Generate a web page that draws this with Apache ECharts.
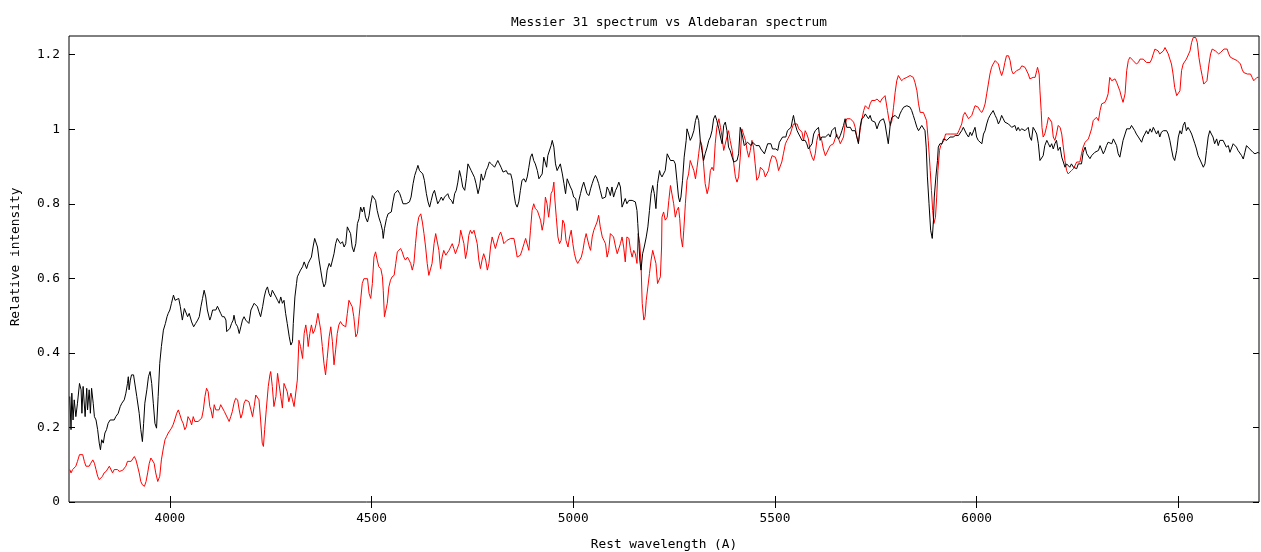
<!DOCTYPE html>
<html>
<head>
<meta charset="utf-8">
<script src="https://cdn.jsdelivr.net/npm/echarts@6/dist/echarts.min.js"></script>
<style>
html,body{margin:0;padding:0;background:#fff;}
#chart{width:1261px;height:552px;}
</style>
</head>
<body>
<div id="chart"></div>
<script>
const titleText = 'Messier 31 spectrum vs Aldebaran spectrum';
const xAxisName = 'Rest wavelength (A)';
const yAxisName = 'Relative intensity';
const xTicks = [4000, 4500, 5000, 5500, 6000, 6500];
const yTicks = [0, 0.2, 0.4, 0.6, 0.8, 1, 1.2];

// Messier 31 spectrum (red) : [wavelength, relative intensity]
const m31 = [
[3752,0.087],[3755,0.078],[3759,0.087],[3763,0.082],[3767,0.096],[3771,0.109],[3776,0.127],[3780,0.131],[3784,0.127],[3788,0.109],[3792,0.096],[3796,0.100],[3800,0.096],[3804,0.104],[3809,0.113],[3813,0.104],[3817,0.087],[3821,0.069],[3825,0.060],[3829,0.064],[3833,0.069],[3837,0.078],[3842,0.082],[3846,0.087],[3850,0.096],[3854,0.091],[3858,0.078],[3862,0.087],[3866,0.082],[3870,0.087],[3875,0.082],[3879,0.087],[3883,0.085],[3887,0.087],[3891,0.096],[3895,0.109],[3899,0.104],[3904,0.109],[3908,0.113],[3912,0.122],[3916,0.113],[3920,0.096],[3924,0.078],[3928,0.055],[3932,0.046],[3937,0.042],[3941,0.055],[3945,0.078],[3949,0.104],[3953,0.118],[3957,0.122],[3961,0.104],[3965,0.078],[3970,0.055],[3972,0.051],[3975,0.069],[3979,0.113],[3984,0.145],[3988,0.167],[3992,0.176],[3996,0.185],[4000,0.189],[4004,0.198],[4008,0.207],[4012,0.220],[4017,0.238],[4021,0.247],[4025,0.234],[4029,0.220],[4033,0.211],[4037,0.194],[4041,0.202],[4045,0.229],[4050,0.220],[4054,0.207],[4058,0.229],[4062,0.216],[4066,0.211],[4070,0.216],[4074,0.216],[4079,0.225],[4083,0.247],[4087,0.283],[4091,0.305],[4095,0.296],[4099,0.256],
[4102,0.247],[4106,0.225],[4110,0.261],[4114,0.247],[4118,0.252],[4122,0.247],[4126,0.261],[4130,0.265],[4135,0.243],[4139,0.247],[4143,0.225],[4147,0.216],[4151,0.229],[4155,0.243],[4159,0.265],[4163,0.278],[4168,0.274],[4172,0.247],[4176,0.225],[4180,0.238],[4184,0.265],[4188,0.274],[4192,0.278],[4196,0.269],[4201,0.247],[4205,0.229],[4209,0.256],[4213,0.287],[4217,0.283],[4221,0.274],[4225,0.220],[4229,0.158],[4232,0.149],[4235,0.194],[4239,0.247],[4244,0.310],[4248,0.341],[4250,0.350],[4254,0.310],[4258,0.256],[4263,0.283],[4267,0.345],[4271,0.350],[4275,0.283],[4279,0.252],[4283,0.318],[4287,0.323],[4291,0.296],[4295,0.269],[4300,0.292],[4304,0.274],[4308,0.256],[4312,0.252],[4316,0.327],[4320,0.434],[4324,0.417],[4329,0.385],[4333,0.452],[4337,0.475],[4341,0.443],[4343,0.417],[4347,0.452],[4351,0.475],[4355,0.452],[4359,0.461],[4363,0.479],[4367,0.506],[4370,0.501],[4374,0.461],[4378,0.417],[4382,0.372],[4386,0.341],[4390,0.385],[4395,0.443],[4399,0.470],[4403,0.430],[4407,0.368],[4411,0.408],[4415,0.452],[4419,0.475],[4423,0.484],[4428,0.475],[4432,0.470],[4436,0.470],[4440,0.506],[4444,0.541],[4448,0.546],[4452,0.524],[4456,0.497],[4461,0.443],[4465,0.452],[4469,0.497],
[4473,0.501],[4477,0.586],[4481,0.599],[4485,0.595],[4490,0.599],[4494,0.559],[4498,0.546],[4502,0.586],[4506,0.657],[4510,0.671],[4514,0.649],[4518,0.631],[4523,0.626],[4527,0.604],[4529,0.568],[4532,0.497],[4536,0.492],[4539,0.533],[4543,0.577],[4547,0.595],[4551,0.604],[4556,0.608],[4560,0.640],[4564,0.671],[4568,0.675],[4572,0.680],[4576,0.671],[4580,0.657],[4584,0.649],[4589,0.657],[4593,0.649],[4597,0.640],[4601,0.622],[4605,0.640],[4609,0.693],[4613,0.738],[4617,0.764],[4622,0.773],[4626,0.751],[4630,0.720],[4634,0.684],[4638,0.640],[4642,0.608],[4646,0.604],[4650,0.640],[4655,0.693],[4659,0.720],[4663,0.724],[4667,0.675],[4671,0.626],[4675,0.657],[4679,0.675],[4684,0.662],[4688,0.666],[4692,0.675],[4696,0.671],[4700,0.693],[4704,0.680],[4708,0.666],[4712,0.662],[4717,0.693],[4721,0.729],[4725,0.729],[4729,0.693],[4733,0.653],[4737,0.675],[4741,0.715],[4745,0.729],[4749,0.720],[4754,0.729],[4758,0.724],[4762,0.693],[4766,0.649],[4770,0.626],[4774,0.649],[4778,0.666],[4783,0.649],[4787,0.622],[4791,0.640],[4795,0.684],[4799,0.711],[4803,0.707],[4807,0.680],[4811,0.684],[4816,0.715],[4820,0.724],[4824,0.711],[4828,0.693],[4832,0.693],[4836,0.702],[4840,0.698],[4845,0.707],
[4849,0.702],[4853,0.707],[4857,0.684],[4861,0.657],[4865,0.653],[4869,0.662],[4873,0.675],[4878,0.693],[4882,0.707],[4886,0.711],[4890,0.675],[4894,0.729],[4898,0.782],[4902,0.800],[4906,0.787],[4911,0.782],[4915,0.782],[4919,0.756],[4923,0.729],[4927,0.751],[4931,0.818],[4935,0.800],[4939,0.764],[4942,0.791],[4945,0.827],[4949,0.836],[4952,0.858],[4954,0.818],[4958,0.764],[4962,0.711],[4966,0.693],[4970,0.702],[4974,0.756],[4978,0.747],[4982,0.702],[4987,0.684],[4991,0.711],[4995,0.729],[4999,0.693],[5003,0.666],[5007,0.649],[5011,0.640],[5015,0.640],[5020,0.657],[5024,0.675],[5028,0.702],[5032,0.720],[5036,0.724],[5040,0.684],[5043,0.675],[5047,0.711],[5051,0.729],[5055,0.733],[5059,0.751],[5063,0.769],[5067,0.738],[5072,0.711],[5076,0.702],[5080,0.693],[5084,0.657],[5088,0.675],[5092,0.720],[5096,0.724],[5100,0.711],[5105,0.684],[5109,0.666],[5113,0.671],[5117,0.693],[5121,0.711],[5125,0.684],[5129,0.644],[5133,0.711],[5138,0.707],[5142,0.675],[5146,0.657],[5150,0.675],[5154,0.666],[5158,0.640],[5161,0.720],[5165,0.693],[5168,0.640],[5171,0.533],[5175,0.488],[5178,0.497],[5181,0.541],[5185,0.577],[5189,0.613],[5193,0.649],[5197,0.675],[5201,0.680],[5205,0.640],[5209,0.586],
[5216,0.604],[5219,0.684],[5220,0.764],[5224,0.778],[5228,0.756],[5233,0.764],[5237,0.809],[5241,0.849],[5245,0.845],[5249,0.800],[5253,0.764],[5257,0.782],[5261,0.791],[5264,0.760],[5267,0.711],[5271,0.684],[5274,0.729],[5278,0.800],[5282,0.863],[5286,0.880],[5290,0.916],[5294,0.921],[5299,0.889],[5303,0.867],[5307,0.898],[5311,0.934],[5315,0.970],[5319,0.956],[5323,0.907],[5327,0.854],[5332,0.827],[5336,0.845],[5340,0.889],[5344,0.898],[5348,0.889],[5352,0.961],[5356,1.005],[5361,1.028],[5365,1.005],[5369,0.979],[5373,0.943],[5377,0.938],[5381,0.979],[5385,0.996],[5389,0.970],[5394,0.943],[5398,0.907],[5402,0.872],[5406,0.858],[5410,0.872],[5414,0.925],[5418,1.001],[5422,1.005],[5427,0.970],[5431,0.943],[5435,0.925],[5439,0.943],[5443,0.970],[5447,0.952],[5451,0.907],[5455,0.863],[5460,0.872],[5464,0.898],[5468,0.898],[5472,0.889],[5476,0.872],[5480,0.867],[5484,0.889],[5488,0.912],[5493,0.929],[5497,0.929],[5501,0.925],[5505,0.912],[5509,0.889],[5513,0.885],[5517,0.912],[5521,0.934],[5526,0.961],[5530,0.970],[5534,0.974],[5538,0.987],[5542,1.001],[5546,1.014],[5550,1.019],[5555,1.014],[5559,1.001],[5563,0.996],[5567,0.992],[5571,0.970],[5575,0.996],[5579,0.987],[5583,0.974],
[5587,0.943],[5592,0.925],[5596,0.916],[5600,0.934],[5604,0.970],[5608,0.987],[5612,0.979],[5616,0.970],[5620,0.947],[5625,0.929],[5629,0.934],[5633,0.947],[5637,0.956],[5641,0.952],[5645,0.961],[5649,0.974],[5653,0.987],[5658,0.974],[5662,0.961],[5666,0.956],[5670,0.979],[5674,1.014],[5678,1.028],[5682,1.030],[5687,1.028],[5691,1.023],[5695,1.019],[5699,1.005],[5703,0.979],[5707,0.965],[5711,0.996],[5715,1.023],[5720,1.050],[5724,1.063],[5728,1.063],[5732,1.054],[5736,1.068],[5740,1.077],[5744,1.072],[5748,1.077],[5753,1.081],[5757,1.077],[5761,1.072],[5765,1.081],[5769,1.086],[5773,1.090],[5776,1.095],[5779,1.050],[5783,1.023],[5786,1.010],[5790,1.023],[5794,1.059],[5798,1.099],[5802,1.130],[5806,1.144],[5810,1.139],[5814,1.130],[5819,1.135],[5823,1.130],[5827,1.139],[5831,1.144],[5835,1.144],[5839,1.144],[5843,1.139],[5847,1.126],[5852,1.103],[5856,1.068],[5860,1.045],[5864,1.041],[5868,1.045],[5872,1.041],[5876,1.023],[5880,0.970],[5885,0.889],[5888,0.836],[5891,0.782],[5894,0.747],[5898,0.764],[5901,0.818],[5904,0.889],[5908,0.943],[5911,0.956],[5915,0.956],[5919,0.970],[5923,0.987],[5928,0.987],[5932,0.992],[5936,0.987],[5940,0.987],[5944,0.987],[5948,0.983],[5952,0.987],[5956,0.996],
[5959,1.001],[5963,1.014],[5967,1.037],[5971,1.045],[5975,1.041],[5980,1.028],[5984,1.023],[5988,1.037],[5992,1.050],[5996,1.063],[6000,1.068],[6004,1.059],[6008,1.050],[6013,1.045],[6017,1.054],[6021,1.068],[6025,1.095],[6029,1.121],[6033,1.148],[6037,1.166],[6041,1.175],[6046,1.184],[6050,1.182],[6054,1.175],[6058,1.157],[6062,1.144],[6066,1.157],[6070,1.179],[6074,1.197],[6079,1.197],[6083,1.184],[6087,1.157],[6091,1.148],[6095,1.152],[6099,1.157],[6103,1.157],[6107,1.161],[6112,1.170],[6116,1.175],[6120,1.166],[6124,1.161],[6128,1.148],[6132,1.135],[6136,1.130],[6140,1.139],[6145,1.139],[6149,1.157],[6151,1.166],[6155,1.148],[6157,1.103],[6160,1.050],[6162,1.005],[6165,0.979],[6169,0.987],[6174,1.010],[6178,1.032],[6182,1.037],[6186,1.019],[6190,0.979],[6194,0.970],[6198,0.987],[6202,1.010],[6207,1.005],[6211,0.987],[6215,0.952],[6219,0.916],[6223,0.889],[6227,0.880],[6231,0.885],[6235,0.889],[6240,0.894],[6244,0.898],[6248,0.912],[6252,0.907],[6256,0.912],[6260,0.934],[6264,0.952],[6269,0.965],[6273,0.970],[6277,0.974],[6281,0.987],[6285,1.001],[6289,1.023],[6293,1.028],[6297,1.032],[6302,1.023],[6306,1.050],[6310,1.068],[6314,1.068],[6318,1.072],[6322,1.081],[6326,1.095],
[6330,1.139],[6335,1.130],[6339,1.130],[6343,1.135],[6347,1.126],[6351,1.121],[6355,1.103],[6359,1.086],[6363,1.072],[6368,1.095],[6372,1.157],[6376,1.184],[6380,1.193],[6384,1.188],[6388,1.184],[6392,1.179],[6396,1.175],[6401,1.179],[6405,1.188],[6409,1.193],[6413,1.188],[6417,1.184],[6421,1.179],[6425,1.184],[6430,1.179],[6434,1.188],[6438,1.202],[6442,1.215],[6446,1.219],[6450,1.210],[6454,1.202],[6458,1.197],[6463,1.210],[6467,1.219],[6471,1.215],[6475,1.202],[6479,1.188],[6483,1.175],[6487,1.148],[6491,1.112],[6496,1.090],[6500,1.086],[6504,1.103],[6508,1.157],[6512,1.175],[6516,1.179],[6520,1.188],[6524,1.193],[6529,1.210],[6533,1.233],[6537,1.246],[6541,1.251],[6543,1.246],[6547,1.233],[6551,1.193],[6555,1.166],[6559,1.144],[6563,1.121],[6567,1.117],[6571,1.130],[6576,1.175],[6580,1.202],[6584,1.215],[6588,1.215],[6592,1.210],[6596,1.206],[6600,1.202],[6605,1.206],[6609,1.210],[6613,1.215],[6617,1.219],[6621,1.215],[6625,1.202],[6629,1.193],[6633,1.188],[6638,1.188],[6642,1.193],[6646,1.184],[6650,1.179],[6654,1.175],[6658,1.161],[6662,1.152],[6666,1.157],[6671,1.148],[6675,1.152],[6679,1.148],[6683,1.139],[6687,1.130],[6691,1.135],[6695,1.139],[6699,1.139]
];

// Aldebaran spectrum (black) : [wavelength, relative intensity]
const aldebaran = [
[3752,0.283],[3755,0.194],[3757,0.292],[3760,0.220],[3763,0.274],[3767,0.229],[3771,0.265],[3776,0.318],[3780,0.301],[3782,0.238],[3785,0.310],[3790,0.229],[3794,0.305],[3796,0.247],[3800,0.301],[3803,0.238],[3806,0.305],[3810,0.265],[3813,0.229],[3817,0.220],[3821,0.194],[3825,0.158],[3828,0.140],[3831,0.167],[3835,0.158],[3839,0.185],[3843,0.194],[3847,0.211],[3852,0.220],[3856,0.225],[3862,0.220],[3866,0.229],[3872,0.238],[3877,0.256],[3881,0.265],[3887,0.274],[3891,0.292],[3895,0.318],[3897,0.336],[3899,0.301],[3902,0.327],[3905,0.341],[3910,0.341],[3914,0.336],[3918,0.283],[3924,0.238],[3928,0.194],[3932,0.162],[3935,0.211],[3938,0.265],[3943,0.301],[3947,0.336],[3951,0.350],[3955,0.318],[3959,0.265],[3963,0.211],[3967,0.198],[3971,0.283],[3975,0.372],[3979,0.417],[3984,0.461],[3989,0.479],[3993,0.497],[3996,0.506],[4000,0.515],[4004,0.533],[4009,0.555],[4013,0.541],[4017,0.541],[4022,0.546],[4026,0.524],[4031,0.488],[4036,0.519],[4040,0.515],[4044,0.497],[4048,0.506],[4054,0.483],[4059,0.470],[4064,0.479],[4069,0.488],[4073,0.497],[4077,0.524],[4081,0.546],[4085,0.568],[4089,0.550],[4093,0.515],[4099,0.488],
[4102,0.497],[4106,0.515],[4110,0.519],[4114,0.515],[4118,0.525],[4122,0.528],[4126,0.506],[4130,0.497],[4135,0.497],[4139,0.488],[4141,0.457],[4144,0.461],[4149,0.466],[4153,0.479],[4157,0.488],[4159,0.501],[4163,0.479],[4168,0.470],[4172,0.452],[4176,0.470],[4180,0.488],[4184,0.497],[4188,0.488],[4192,0.492],[4196,0.479],[4201,0.515],[4205,0.519],[4209,0.533],[4213,0.537],[4217,0.524],[4221,0.510],[4225,0.497],[4230,0.524],[4234,0.550],[4238,0.568],[4242,0.577],[4246,0.559],[4250,0.550],[4254,0.568],[4258,0.573],[4263,0.550],[4267,0.541],[4271,0.533],[4275,0.550],[4279,0.533],[4283,0.541],[4287,0.506],[4291,0.479],[4296,0.443],[4300,0.421],[4304,0.430],[4306,0.479],[4310,0.550],[4314,0.586],[4316,0.604],[4320,0.613],[4324,0.622],[4329,0.631],[4333,0.644],[4337,0.640],[4339,0.626],[4343,0.640],[4347,0.649],[4351,0.657],[4355,0.684],[4359,0.707],[4363,0.702],[4366,0.684],[4370,0.649],[4374,0.622],[4378,0.595],[4382,0.577],[4386,0.586],[4390,0.622],[4395,0.640],[4399,0.631],[4403,0.626],[4407,0.666],[4411,0.693],[4415,0.707],[4419,0.702],[4423,0.693],[4428,0.698],[4432,0.684],[4436,0.693],[4440,0.738],[4444,0.729],[4448,0.720],[4452,0.684],[4456,0.671],[4461,0.693],[4465,0.747],[4469,0.760],
[4473,0.791],[4477,0.778],[4481,0.791],[4485,0.764],[4490,0.751],[4494,0.769],[4498,0.800],[4502,0.822],[4506,0.818],[4510,0.809],[4514,0.782],[4518,0.764],[4523,0.747],[4527,0.729],[4529,0.707],[4532,0.733],[4537,0.760],[4541,0.773],[4545,0.769],[4549,0.778],[4553,0.805],[4557,0.827],[4561,0.831],[4565,0.836],[4570,0.827],[4574,0.814],[4578,0.800],[4582,0.805],[4586,0.800],[4590,0.805],[4594,0.805],[4598,0.818],[4603,0.854],[4607,0.876],[4611,0.889],[4615,0.903],[4619,0.889],[4623,0.894],[4627,0.880],[4631,0.863],[4636,0.827],[4640,0.805],[4644,0.791],[4648,0.809],[4652,0.827],[4656,0.836],[4660,0.818],[4664,0.800],[4669,0.809],[4673,0.818],[4677,0.809],[4681,0.818],[4685,0.822],[4689,0.827],[4693,0.814],[4698,0.809],[4702,0.800],[4706,0.827],[4710,0.836],[4714,0.858],[4718,0.889],[4722,0.871],[4726,0.845],[4731,0.836],[4735,0.867],[4739,0.907],[4743,0.903],[4747,0.889],[4751,0.880],[4755,0.871],[4759,0.854],[4764,0.827],[4768,0.845],[4772,0.880],[4776,0.863],[4780,0.871],[4784,0.889],[4788,0.898],[4792,0.912],[4797,0.907],[4801,0.903],[4805,0.898],[4809,0.907],[4813,0.916],[4817,0.907],[4821,0.898],[4826,0.885],[4830,0.880],[4834,0.889],[4838,0.880],[4842,0.880],
[4845,0.880],[4849,0.863],[4853,0.827],[4857,0.800],[4861,0.791],[4865,0.805],[4869,0.836],[4873,0.863],[4878,0.867],[4882,0.858],[4886,0.872],[4890,0.898],[4894,0.925],[4898,0.934],[4902,0.916],[4906,0.907],[4911,0.889],[4915,0.867],[4919,0.863],[4923,0.880],[4927,0.925],[4931,0.929],[4934,0.898],[4937,0.929],[4941,0.934],[4945,0.956],[4948,0.970],[4952,0.952],[4956,0.907],[4960,0.889],[4964,0.894],[4968,0.907],[4973,0.880],[4977,0.854],[4981,0.827],[4985,0.867],[4989,0.872],[4993,0.845],[4997,0.836],[5001,0.818],[5006,0.814],[5010,0.782],[5014,0.809],[5018,0.827],[5022,0.845],[5026,0.858],[5030,0.854],[5034,0.827],[5039,0.822],[5043,0.840],[5047,0.854],[5051,0.867],[5055,0.876],[5059,0.867],[5063,0.854],[5067,0.836],[5072,0.814],[5076,0.809],[5080,0.818],[5084,0.845],[5088,0.836],[5092,0.822],[5096,0.845],[5100,0.818],[5105,0.836],[5109,0.845],[5113,0.858],[5117,0.845],[5121,0.791],[5125,0.796],[5129,0.814],[5133,0.800],[5138,0.809],[5142,0.805],[5146,0.809],[5150,0.809],[5154,0.805],[5158,0.782],[5160,0.747],[5162,0.711],[5165,0.649],[5168,0.622],[5172,0.666],[5176,0.684],[5181,0.711],[5185,0.738],[5189,0.782],[5193,0.827],[5197,0.849],[5201,0.827],[5205,0.787],[5209,0.854],[5214,0.889],
[5216,0.880],[5220,0.872],[5224,0.867],[5228,0.889],[5233,0.934],[5237,0.938],[5241,0.916],[5245,0.912],[5249,0.916],[5253,0.907],[5257,0.863],[5261,0.818],[5264,0.805],[5267,0.818],[5271,0.863],[5275,0.925],[5280,0.970],[5282,1.001],[5286,0.987],[5290,0.970],[5294,0.979],[5299,0.996],[5303,1.023],[5307,1.037],[5311,1.023],[5315,0.970],[5319,0.943],[5323,0.916],[5327,0.934],[5332,0.952],[5336,0.970],[5340,0.979],[5344,0.996],[5348,1.028],[5352,1.037],[5356,1.023],[5361,1.001],[5365,0.979],[5369,0.961],[5373,1.010],[5377,1.019],[5381,0.996],[5385,0.952],[5389,0.943],[5394,0.925],[5398,0.912],[5402,0.907],[5406,0.916],[5410,0.934],[5414,1.005],[5417,1.010],[5420,0.979],[5424,0.956],[5428,0.952],[5432,0.965],[5436,0.970],[5441,0.956],[5445,0.965],[5449,0.961],[5453,0.956],[5457,0.952],[5461,0.956],[5465,0.947],[5469,0.943],[5474,0.934],[5478,0.938],[5482,0.961],[5486,0.956],[5490,0.961],[5494,0.947],[5498,0.952],[5502,0.947],[5507,0.943],[5511,0.965],[5515,0.970],[5519,0.979],[5523,0.974],[5527,0.979],[5531,0.996],[5535,1.001],[5540,1.005],[5544,1.028],[5546,1.037],[5550,1.014],[5555,0.996],[5559,0.987],[5563,0.979],[5567,0.970],[5571,0.974],[5575,0.970],[5579,0.961],[5583,0.947],
[5587,0.947],[5592,0.961],[5596,0.987],[5600,0.996],[5604,1.001],[5608,1.005],[5612,0.970],[5616,0.979],[5620,0.974],[5625,0.979],[5629,0.974],[5633,0.987],[5637,0.979],[5641,0.996],[5645,1.001],[5649,1.005],[5653,0.979],[5658,0.974],[5662,0.983],[5666,0.996],[5670,1.010],[5674,1.028],[5678,1.005],[5682,1.001],[5687,1.005],[5691,0.996],[5695,1.001],[5699,0.996],[5703,0.979],[5707,0.961],[5711,1.005],[5715,1.028],[5720,1.032],[5724,1.041],[5728,1.045],[5732,1.028],[5736,1.037],[5740,1.023],[5744,1.028],[5748,1.019],[5753,1.001],[5757,1.014],[5761,1.023],[5765,1.028],[5769,1.028],[5773,1.014],[5777,0.987],[5781,0.961],[5786,1.014],[5790,1.032],[5794,1.032],[5798,1.037],[5802,1.032],[5806,1.028],[5810,1.041],[5814,1.050],[5819,1.059],[5823,1.054],[5827,1.063],[5831,1.068],[5835,1.059],[5839,1.050],[5843,1.037],[5847,1.023],[5852,1.005],[5856,0.996],[5860,0.992],[5864,1.010],[5868,1.014],[5872,0.996],[5875,0.952],[5878,0.872],[5882,0.800],[5886,0.729],[5890,0.707],[5893,0.756],[5895,0.818],[5899,0.872],[5903,0.916],[5905,0.952],[5909,0.961],[5914,0.961],[5918,0.974],[5922,0.979],[5926,0.970],[5930,0.974],[5934,0.979],[5938,0.974],[5942,0.979],[5947,0.983],[5951,0.979],[5955,0.983],
[5959,0.979],[5963,0.996],[5967,1.005],[5971,1.001],[5975,0.987],[5980,0.979],[5984,0.992],[5988,0.983],[5992,0.979],[5996,1.005],[6000,0.979],[6004,0.970],[6008,0.974],[6013,0.961],[6017,0.987],[6021,0.996],[6025,1.014],[6029,1.028],[6033,1.037],[6037,1.041],[6041,1.050],[6046,1.037],[6050,1.028],[6054,1.014],[6058,1.023],[6062,1.037],[6066,1.028],[6070,1.019],[6074,1.023],[6079,1.014],[6083,1.019],[6087,1.005],[6091,1.010],[6095,1.010],[6099,0.996],[6103,1.005],[6107,0.996],[6112,1.001],[6116,1.005],[6120,0.996],[6124,1.001],[6128,1.005],[6132,0.979],[6136,0.970],[6140,1.005],[6145,0.996],[6149,0.987],[6153,0.961],[6157,0.916],[6161,0.912],[6165,0.929],[6169,0.956],[6174,0.970],[6178,0.961],[6182,0.952],[6186,0.961],[6190,0.947],[6194,0.961],[6198,0.970],[6202,0.943],[6207,0.952],[6211,0.925],[6215,0.912],[6219,0.898],[6223,0.907],[6227,0.903],[6231,0.898],[6235,0.907],[6240,0.898],[6244,0.903],[6248,0.894],[6252,0.907],[6256,0.912],[6260,0.907],[6264,0.938],[6269,0.952],[6273,0.934],[6277,0.938],[6281,0.921],[6285,0.929],[6289,0.934],[6293,0.938],[6297,0.934],[6302,0.943],[6306,0.956],[6310,0.961],[6314,0.934],[6318,0.943],[6322,0.956],[6326,0.965],
[6330,0.965],[6335,0.961],[6339,0.974],[6343,0.979],[6347,0.956],[6351,0.934],[6355,0.925],[6359,0.929],[6363,0.970],[6368,0.987],[6372,1.001],[6376,1.005],[6380,1.001],[6384,1.010],[6388,1.014],[6392,0.996],[6396,0.987],[6401,0.979],[6405,0.974],[6409,0.965],[6413,0.979],[6417,0.987],[6421,0.996],[6425,0.987],[6430,1.001],[6434,0.992],[6438,1.005],[6442,0.996],[6446,0.987],[6450,0.996],[6454,0.979],[6458,0.992],[6463,0.996],[6467,0.992],[6471,0.996],[6475,0.987],[6479,0.970],[6483,0.947],[6487,0.925],[6491,0.916],[6496,0.943],[6500,0.979],[6504,0.996],[6508,0.987],[6512,1.010],[6516,1.019],[6520,0.996],[6524,1.005],[6529,0.996],[6533,0.987],[6537,0.974],[6541,0.961],[6545,0.947],[6549,0.929],[6553,0.920],[6557,0.925],[6562,0.898],[6566,0.907],[6570,0.943],[6574,0.979],[6578,0.996],[6582,0.987],[6586,0.979],[6590,0.961],[6595,0.974],[6599,0.956],[6603,0.970],[6607,0.974],[6611,0.970],[6615,0.965],[6619,0.952],[6624,0.956],[6628,0.938],[6632,0.934],[6636,0.961],[6640,0.956],[6644,0.952],[6648,0.943],[6652,0.947],[6657,0.929],[6661,0.920],[6665,0.938],[6669,0.956],[6673,0.952],[6677,0.947],[6681,0.943],[6685,0.938],[6690,0.934],[6694,0.938],[6698,0.938],[6700,0.935]
];

const FONT = 'DejaVu Sans Mono';
const FS = 12.8;
const txt = { fontFamily: FONT, fontSize: FS, color: '#000' };
const fontCss = FS + 'px "' + FONT + '"';

function xAx(pos, withLabels) {
  return {
    type: 'value', min: 3750, max: 6700, position: pos,
    axisLine: { show: false },
    axisTick: { show: true, inside: true, length: 6, lineStyle: { color: '#000', width: 1 }, customValues: xTicks },
    axisLabel: { show: withLabels, margin: 10, customValues: xTicks, formatter: v => String(v), ...txt },
    splitLine: { show: false }
  };
}
function yAx(pos, withLabels) {
  return {
    type: 'value', min: 0, max: 1.25, position: pos,
    axisLine: { show: false },
    axisTick: { show: true, inside: true, length: 6, lineStyle: { color: '#000', width: 1 }, customValues: yTicks },
    axisLabel: { show: withLabels, margin: 9, customValues: yTicks, formatter: v => String(v), ...txt },
    splitLine: { show: false }
  };
}

const chart = echarts.init(document.getElementById('chart'), null, { renderer: 'canvas' });
chart.setOption({
  animation: false,
  backgroundColor: '#fff',
  title: {
    text: titleText, left: 664, top: 11, textAlign: 'center',
    textStyle: { fontFamily: FONT, fontSize: FS, fontWeight: 'normal', color: '#000' }
  },
  graphic: [
    { type: 'text', x: 664, y: 545, silent: true,
      style: { text: xAxisName, font: fontCss, fill: '#000', align: 'center', verticalAlign: 'middle' } },
    { type: 'text', x: 16, y: 257, rotation: Math.PI / 2, silent: true,
      style: { text: yAxisName, font: fontCss, fill: '#000', align: 'center', verticalAlign: 'middle' } }
  ],
  grid: { left: 69, right: 2, top: 36, bottom: 50, show: true, borderColor: '#000', borderWidth: 1, backgroundColor: 'transparent' },
  xAxis: [xAx('bottom', true), xAx('top', false)],
  yAxis: [yAx('left', true), yAx('right', false)],
  series: [
    { name: 'Messier 31', type: 'line', xAxisIndex: 0, yAxisIndex: 0, data: m31, symbol: 'none', showSymbol: false,
      lineStyle: { color: '#ff0000', width: 1 }, itemStyle: { color: '#ff0000' }, clip: true, silent: true },
    { name: 'Aldebaran', type: 'line', xAxisIndex: 0, yAxisIndex: 0, data: aldebaran, symbol: 'none', showSymbol: false,
      lineStyle: { color: '#000000', width: 1 }, itemStyle: { color: '#000000' }, clip: true, silent: true }
  ]
});
</script>
</body>
</html>
